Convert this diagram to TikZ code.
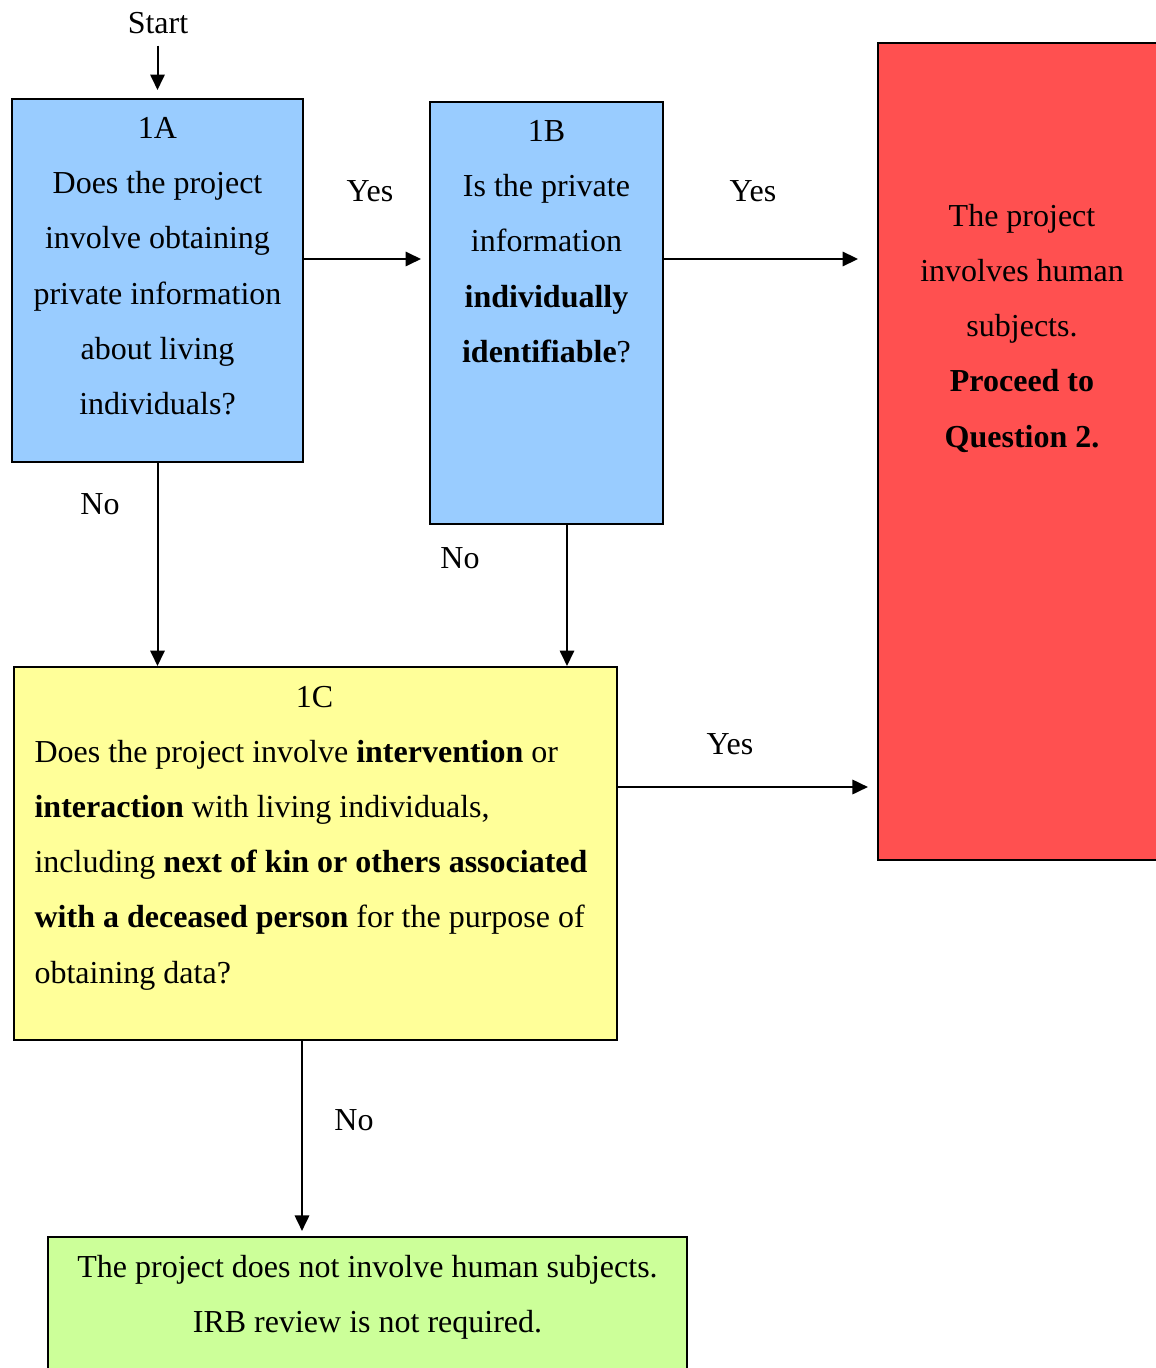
\documentclass[tikz,border=0pt]{standalone}
\usepackage{fontspec}
\setmainfont{Liberation Serif}
\usetikzlibrary{arrows.meta}
\usetikzlibrary{calc}

\definecolor{qblue}{RGB}{153,204,255}
\definecolor{qyellow}{RGB}{255,255,153}
\definecolor{qred}{RGB}{255,80,80}
\definecolor{qgreen}{RGB}{204,255,153}

\tikzset{
	box/.style={draw, line width=0.75pt, rectangle, inner sep=0pt, anchor=north west},
	flow/.style={-{Triangle[length=5.8pt,width=5.4pt]}, line width=0.75pt},
	txt/.style={inner sep=0pt, font=\fontsize{12}{20.7}\selectfont},
}

\begin{document}
\begin{tikzpicture}[x=0.375pt, y=-0.375pt]
			\useasboundingbox (0,0) rectangle (1155,1368);
			% boxes
			\node [box, fill=qblue, minimum width=109.125pt, minimum height=136.125pt] (q1a) at (11,98) {};
			\node [box, fill=qblue, minimum width=87.375pt, minimum height=158.25pt] (q1b) at (429,101) {};
			\node [box, fill=qred, minimum width=108pt, minimum height=306.375pt] (hs) at (877,42) {};
			\node [box, fill=qyellow, minimum width=226.125pt, minimum height=139.875pt] (q1c) at (13,666) {};
			\node [box, fill=qgreen, minimum width=239.625pt, minimum height=61.5pt] (nohs) at (47,1236) {};
			% box texts
			\node [txt, anchor=north, align=center] (q1atext) at ([yshift=-0.5pt]q1a.north) {\strut 1A\\Does the project\\involve obtaining\\private information\\about living\\individuals?};
			\node [txt, anchor=north, align=center] (q1btext) at ([yshift=-0.5pt]q1b.north) {\strut 1B\\Is the private\\information\\\textbf{individually}\\\textbf{identifiable}?};
			\node [txt, anchor=north, align=center] (hstext) at ([yshift=-54.4pt]hs.north) {\strut The project\\involves human\\subjects.\\\textbf{Proceed to}\\\textbf{Question 2.}};
			\node [txt, anchor=north west, align=left] (q1ctext) at ([xshift=7.9pt, yshift=-0.75pt]q1c.north west) {\makebox[210pt][c]{\strut 1C}\\Does the project involve \textbf{intervention} or\\\textbf{interaction} with living individuals,\\including \textbf{next of kin or others associated}\\\textbf{with a deceased person} for the purpose of\\obtaining data?};
			\node [txt, anchor=north, align=center] (nohstext) at ([yshift=-0.75pt]nohs.north) {\strut The project does not involve human subjects.\\IRB review is not required.};
			% labels
			\node [txt, anchor=base] (start) at (158,34) {Start};
			\node [txt, anchor=base] (yes1) at (370,202) {Yes};
			\node [txt, anchor=base] (yes2) at (753,202) {Yes};
			\node [txt, anchor=base] (yes3) at (730,754) {Yes};
			\node [txt, anchor=base] (no1) at (100,514) {No};
			\node [txt, anchor=base] (no2) at (460,568) {No};
			\node [txt, anchor=base] (no3) at (354,1130) {No};
			% connectors
			\draw [flow, shorten <=4pt, shorten >=3pt] (start.south -| q1a.north) -- (q1a.north);
			\draw [flow, shorten >=3pt] ($(q1a.north east)+(0,161)$) coordinate (ab) -- (ab -| q1b.west);
			\draw [flow, shorten >=7.1pt] ($(q1b.north east)+(0,158)$) coordinate (bh) -- (bh -| hs.west);
			\draw [flow] (q1a.south) -- (q1a.south |- q1c.north);
			\draw [flow] ($(q1b.south)+(20.5,0)$) coordinate (bc) -- (bc |- q1c.north);
			\draw [flow, shorten >=3.4pt] ($(q1c.north east)+(0,121)$) coordinate (ch) -- (ch -| hs.west);
			\draw [flow, shorten >=1.9pt] ($(q1c.south)+(-13.5,0)$) coordinate (cn) -- (cn |- nohs.north);
	\end{tikzpicture}
\end{document}
